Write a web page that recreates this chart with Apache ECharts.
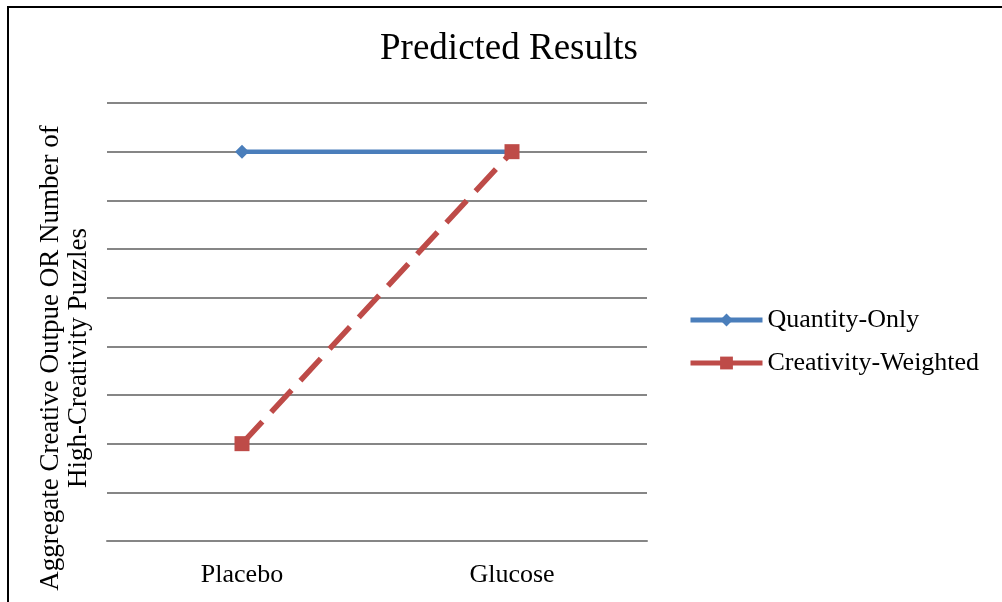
<!DOCTYPE html>
<html>
<head>
<meta charset="utf-8">
<script src="https://cdn.jsdelivr.net/npm/echarts@6/dist/echarts.min.js"></script>
<style>
html,body{margin:0;padding:0;background:#fff;}
#c{width:1002px;height:602px;}
</style>
</head>
<body>
<div id="c"></div>
<script>
var categories = ['Placebo', 'Glucose'];
var quantityOnly = [8, 8];
var creativityWeighted = [2, 8];
var seriesNames = ['Quantity-Only', 'Creativity-Weighted'];
var titleText = 'Predicted Results';
var yAxisName = 'Aggregate Creative Outpue OR Number of\nHigh-Creativity Puzzles';

var FONT = '"Liberation Serif","Times New Roman",serif';
var chart = echarts.init(document.getElementById('c'));
chart.setOption({
  backgroundColor: '#fff',
  animation: false,
  graphic: [{
    type: 'rect',
    shape: { x: 8, y: 7, width: 1100, height: 700 },
    style: { fill: 'none', stroke: '#000', lineWidth: 2 },
    silent: true
  }],
  title: {
    text: titleText,
    left: 504,
    textAlign: 'center',
    top: 26,
    textStyle: { fontFamily: FONT, fontWeight: 'normal', fontSize: 37, color: '#000' }
  },
  legend: {
    orient: 'vertical',
    left: 688,
    top: 307,
    padding: 0,
    itemWidth: 72,
    itemHeight: 16,
    itemGap: 17,
    lineStyle: { type: 'solid', width: 5 },
    textStyle: { fontFamily: FONT, fontSize: 26, color: '#000' },
    data: seriesNames
  },
  grid: { left: 107, right: 355, top: 103, bottom: 61 },
  xAxis: {
    type: 'category',
    data: categories,
    boundaryGap: true,
    axisLine: { show: true, lineStyle: { color: '#868686', width: 2 } },
    axisTick: { show: false },
    axisLabel: { fontFamily: FONT, fontSize: 26, color: '#000', margin: 21 },
    splitLine: { show: false }
  },
  yAxis: {
    type: 'value',
    min: 0,
    max: 9,
    interval: 1,
    name: yAxisName,
    nameLocation: 'middle',
    nameGap: 14,
    nameRotate: 90,
    nameTextStyle: { fontFamily: FONT, fontSize: 27, color: '#000', lineHeight: 28, padding: [0, 72, 0, 0] },
    axisLabel: { show: false },
    axisLine: { show: false },
    axisTick: { show: false },
    splitLine: { show: true, lineStyle: { color: '#868686', width: 2 } }
  },
  series: [{
    name: seriesNames[0],
    type: 'line',
    data: quantityOnly,
    symbol: 'diamond',
    symbolSize: 14,
    itemStyle: { color: '#4a7ebb' },
    lineStyle: { color: '#4a7ebb', width: 4.5 }
  }, {
    name: seriesNames[1],
    type: 'line',
    data: creativityWeighted,
    symbol: 'rect',
    symbolSize: 15,
    itemStyle: { color: '#be4b48' },
    lineStyle: { color: '#be4b48', width: 5.5, type: [30, 13] },
    z: 3
  }]
});
</script>
</body>
</html>
